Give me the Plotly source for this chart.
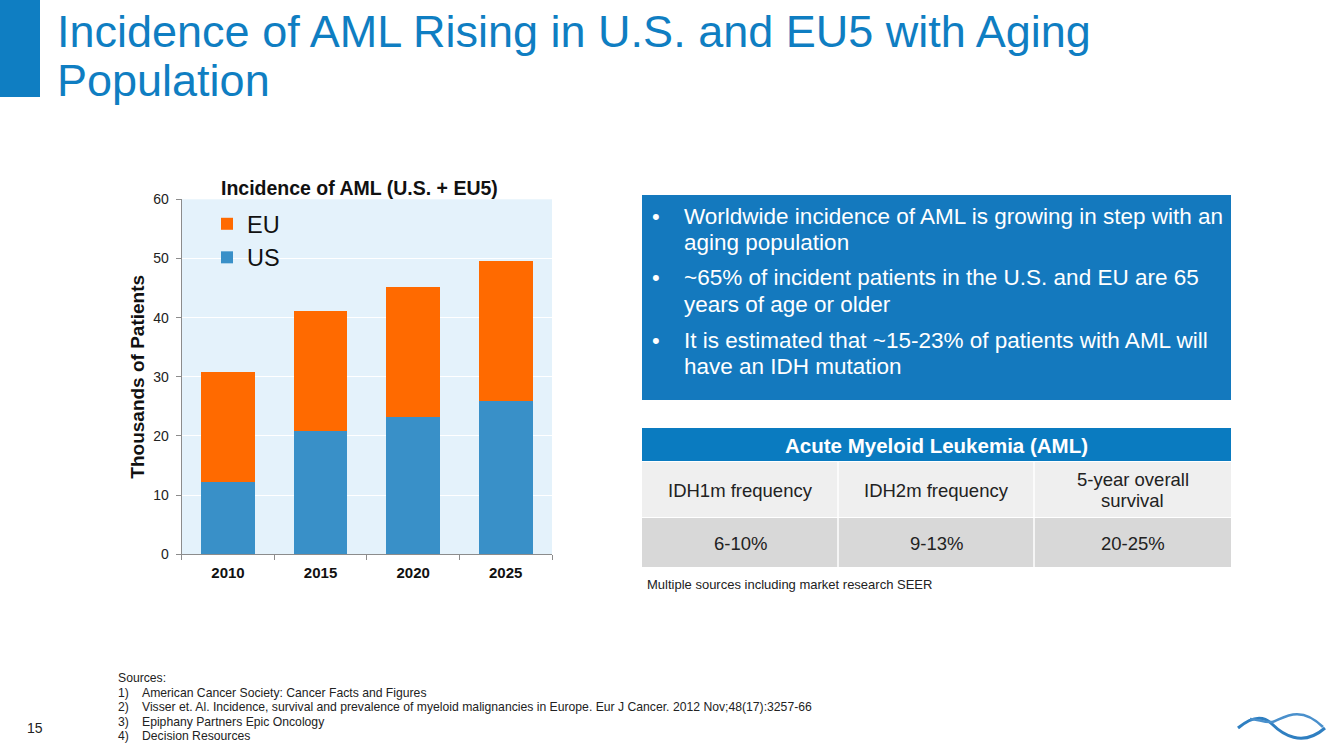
import plotly.graph_objects as go

W, H = 1344, 756

years = ["2010", "2015", "2020", "2025"]
us_values = [12.3, 20.8, 23.2, 25.9]
eu_values = [18.5, 20.4, 22.0, 23.6]

chart_title = "Incidence of AML (U.S. + EU5)"
y_title = "Thousands of Patients"
y_ticks = [0, 10, 20, 30, 40, 50, 60]

slide_title_lines = ["Incidence of AML Rising in U.S. and EU5 with Aging", "Population"]
bullets = [
    ["Worldwide incidence of AML is growing in step with an", "aging population"],
    ["~65% of incident patients in the U.S. and EU are 65", "years of age or older"],
    ["It is estimated that ~15-23% of patients with AML will", "have an IDH mutation"],
]
table_header = "Acute Myeloid Leukemia (AML)"
table_cols = [["IDH1m frequency"], ["IDH2m frequency"], ["5-year overall", "survival"]]
table_vals = ["6-10%", "9-13%", "20-25%"]
table_note = "Multiple sources including market research SEER"
sources_head = "Sources:"
source_nums = ["1)", "2)", "3)", "4)"]
source_texts = [
    "American Cancer Society: Cancer Facts and Figures",
    "Visser et. Al. Incidence, survival and prevalence of myeloid malignancies in Europe. Eur J Cancer. 2012 Nov;48(17):3257-66",
    "Epiphany Partners Epic Oncology",
    "Decision Resources",
]
page_number = "15"

FONT = "Liberation Sans, Arial, sans-serif"
BLUE_BAR = "#3990C8"
ORANGE = "#FF6A00"
TITLE_BLUE = "#0F7EC2"
BOX_BLUE = "#1479BE"
TEXT = "#1A1A1A"


def px(x):
    return x / W


def py(y):
    return 1 - y / H


def label(text, x, y, size, color=TEXT, xanchor="left", bold=False):
    if bold:
        text = "<b>" + text + "</b>"
    return dict(text=text, xref="paper", yref="paper", x=px(x), y=py(y), xanchor=xanchor,
                yanchor="middle", showarrow=False, align="left",
                font=dict(family=FONT, size=size, color=color))


fig = go.Figure()
fig.add_trace(go.Bar(x=years, y=us_values, name="US", marker_color=BLUE_BAR, marker_line_width=0))
fig.add_trace(go.Bar(x=years, y=eu_values, name="EU", marker_color=ORANGE, marker_line_width=0))

shapes = []
annotations = []

# left accent block + slide title
shapes.append(dict(type="rect", xref="paper", yref="paper", x0=px(0), x1=px(40), y0=py(0), y1=py(97),
                   fillcolor="#0F7EC2", line_width=0, layer="below"))
for i, line in enumerate(slide_title_lines):
    annotations.append(label(line, 55, 31 + i * 50, 45, TITLE_BLUE))

# chart title
annotations.append(label(chart_title, 359, 188, 19.5, "#111111", xanchor="center", bold=True))

# blue bullet box
shapes.append(dict(type="rect", xref="paper", yref="paper", x0=px(642), x1=px(1231), y0=py(195), y1=py(400),
                   fillcolor=BOX_BLUE, line_width=0))
for b, lines in enumerate(bullets):
    y0 = 216 + b * 62
    annotations.append(label("\u2022", 650, y0, 22, "white"))
    for j, line in enumerate(lines):
        annotations.append(label(line, 682, y0 + j * 26, 22.5, "white"))

# table
tx0, tx1 = 642, 1231
col_edges = [642, 838, 1034, 1231]
shapes.append(dict(type="rect", xref="paper", yref="paper", x0=px(tx0), x1=px(tx1), y0=py(428), y1=py(461),
                   fillcolor="#0A7BC0", line_width=0))
shapes.append(dict(type="rect", xref="paper", yref="paper", x0=px(tx0), x1=px(tx1), y0=py(462), y1=py(517),
                   fillcolor="#EFEFEF", line_width=0))
shapes.append(dict(type="rect", xref="paper", yref="paper", x0=px(tx0), x1=px(tx1), y0=py(518), y1=py(567),
                   fillcolor="#D8D8D8", line_width=0))
for xe in col_edges[1:-1]:
    shapes.append(dict(type="line", xref="paper", yref="paper", x0=px(xe), x1=px(xe), y0=py(462), y1=py(567),
                       line=dict(color="white", width=1.5)))
annotations.append(label(table_header, (tx0 + tx1) / 2, 445, 20.5, "white", xanchor="center", bold=True))
for i in range(3):
    cx = (col_edges[i] + col_edges[i + 1]) / 2
    lines = table_cols[i]
    n = len(lines)
    for j, line in enumerate(lines):
        yy = 490 + (j - (n - 1) / 2) * 21
        annotations.append(label(line, cx, yy, 18.5, "#222222", xanchor="center"))
    annotations.append(label(table_vals[i], cx, 543, 18.5, "#222222", xanchor="center"))
annotations.append(label(table_note, 645, 584, 13, "#222222"))

# sources
annotations.append(label(sources_head, 116, 678, 12.2, "#222222"))
for i, (n, s) in enumerate(zip(source_nums, source_texts)):
    yy = 678 + (i + 1) * 14.6
    annotations.append(label(n, 116, yy, 12.2, "#222222"))
    annotations.append(label(s, 140, yy, 12.2, "#222222"))
annotations.append(label(page_number, 25, 728, 14, "#222222"))

# logo (two crossing waves)
logo1 = "M {} {} C {} {}, {} {}, {} {} S {} {}, {} {}".format(
    px(1238), py(728), px(1250), py(718), px(1262), py(714), px(1272), py(724),
    px(1302), py(748), px(1325), py(728))
logo2 = "M {} {} C {} {}, {} {}, {} {} S {} {}, {} {}".format(
    px(1250), py(719), px(1258), py(719), px(1264), py(723), px(1272), py(722),
    px(1298), py(702), px(1323), py(727))
shapes.append(dict(type="path", xref="paper", yref="paper", path=logo1, line=dict(color="#2F7FC1", width=3)))
shapes.append(dict(type="path", xref="paper", yref="paper", path=logo2, line=dict(color="#4A90CC", width=2.5)))

fig.update_layout(
    width=W, height=H,
    autosize=False,
    margin=dict(l=0, r=0, t=0, b=0, pad=0, autoexpand=False),
    paper_bgcolor="white",
    plot_bgcolor="#E4F2FB",
    barmode="stack",
    bargap=0.42,
    showlegend=True,
    legend=dict(x=px(207), y=py(202), xanchor="left", yanchor="top", traceorder="reversed",
                bgcolor="rgba(0,0,0,0)", font=dict(family=FONT, size=23.5, color="#111111"),
                itemsizing="constant"),
    xaxis=dict(domain=[px(181.7), px(552)], showline=True, linecolor="#8C8C8C", linewidth=1,
               ticks="outside", tickson="boundaries", ticklen=5, tickcolor="#8C8C8C",
               tickfont=dict(family=FONT, size=15, color="#111111"), showgrid=False,
               ticklabelstandoff=5, automargin=False,
               tickprefix="<b>", ticksuffix="</b>", anchor="y"),
    yaxis=dict(domain=[py(554.3), py(199.3)], range=[0, 60], tickvals=y_ticks,
               showline=True, linecolor="#8C8C8C", linewidth=1, ticks="outside", ticklen=5,
               tickcolor="#8C8C8C", showgrid=True, gridcolor="white", gridwidth=1,
               zeroline=False, ticklabelstandoff=4, automargin=False,
               tickfont=dict(family=FONT, size=14, color="#222222"),
               title=dict(text="<b>" + y_title + "</b>", font=dict(family=FONT, size=19, color="#111111"),
                          standoff=3), anchor="x"),
    shapes=shapes,
    annotations=annotations,
    font=dict(family=FONT),
)

fig.write_html(
    "out.html",
    config={"displayModeBar": False},
    post_script=(
        "document.documentElement.style.overflow='hidden';"
        "document.body.style.margin='0';"
        "var gd=document.getElementById('{plot_id}');"
        "gd.style.position='fixed';gd.style.top='0px';gd.style.left='0px';"
    ),
)
